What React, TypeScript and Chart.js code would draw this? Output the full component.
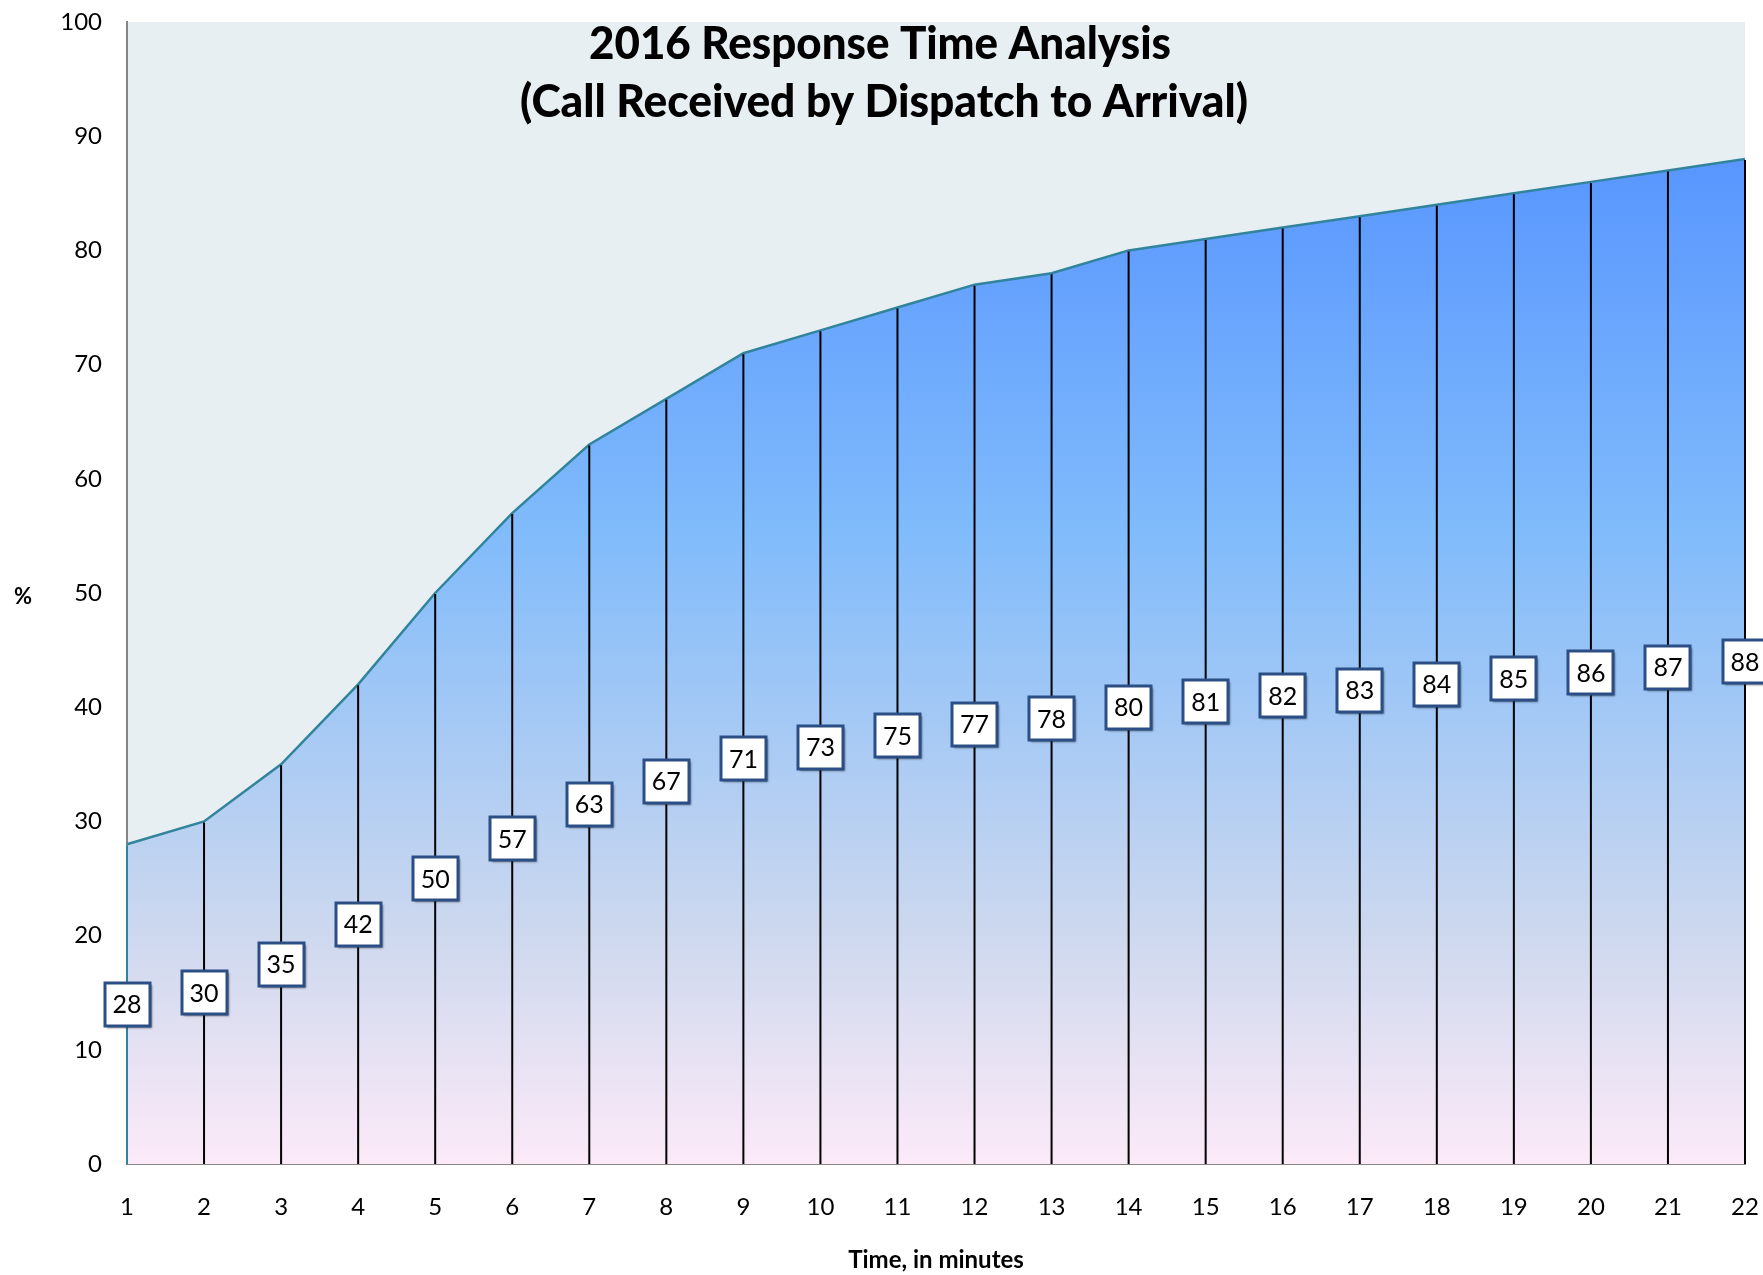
import React, { useEffect, useRef } from 'react';
import { Chart, registerables } from 'chart.js';

Chart.register(...registerables);

const minuteLabels = ['1', '2', '3', '4', '5', '6', '7', '8', '9', '10', '11', '12', '13', '14', '15', '16', '17', '18', '19', '20', '21', '22'];
const percentValues = [28, 30, 35, 42, 50, 57, 63, 67, 71, 73, 75, 77, 78, 80, 81, 82, 83, 84, 85, 86, 87, 88];
const titleLines = ['2016 Response Time Analysis', '(Call Received by Dispatch to Arrival)'];
const xAxisTitle = 'Time, in minutes';
const yAxisTitle = '%';
const yMin = 0;
const yMax = 100;
const yStep = 10;

const FONT = 'Lato, "Open Sans", sans-serif';

export default function App() {
  const canvasRef = useRef<HTMLCanvasElement | null>(null);

  useEffect(() => {
    document.body.style.margin = '0';
    const canvas = canvasRef.current;
    if (!canvas) return;

    const backgroundPlugin = {
      id: 'plotBackground',
      beforeDraw(chart: any) {
        const { ctx, chartArea } = chart;
        ctx.save();
        ctx.fillStyle = '#E7EFF3';
        ctx.fillRect(chartArea.left, chartArea.top, chartArea.right - chartArea.left, chartArea.bottom - chartArea.top);
        ctx.restore();
      },
    };

    const dropLinePlugin = {
      id: 'dropLinesAndLabels',
      afterDatasetsDraw(chart: any) {
        const { ctx, scales } = chart;
        const meta = chart.getDatasetMeta(0);
        const yBase = scales.y.getPixelForValue(0);
        ctx.save();
        meta.data.forEach((pt: any, i: number) => {
          ctx.beginPath();
          ctx.strokeStyle = i === 0 ? '#31849B' : '#000000';
          ctx.lineWidth = 2;
          ctx.moveTo(pt.x, pt.y + 1);
          ctx.lineTo(pt.x, yBase);
          ctx.stroke();
        });
        const w = 45;
        const h = 43;
        meta.data.forEach((pt: any, i: number) => {
          const v = percentValues[i];
          const cy = scales.y.getPixelForValue(v / 2);
          const x0 = Math.round(pt.x - w / 2);
          const y0 = Math.round(cy - h / 2);
          ctx.save();
          ctx.shadowColor = 'rgba(0,0,0,0.5)';
          ctx.shadowOffsetX = 1.5;
          ctx.shadowOffsetY = 1.5;
          ctx.shadowBlur = 2;
          ctx.fillStyle = '#FFFFFF';
          ctx.fillRect(x0, y0, w, h);
          ctx.restore();
          ctx.strokeStyle = '#2B4F85';
          ctx.lineWidth = 3;
          ctx.strokeRect(x0, y0, w, h);
          ctx.fillStyle = '#000000';
          ctx.font = `25px ${FONT}`;
          ctx.textAlign = 'center';
          ctx.textBaseline = 'middle';
          ctx.fillText(String(v), pt.x, cy + 1);
        });
        ctx.restore();
      },
    };

    const textPlugin = {
      id: 'titles',
      afterDraw(chart: any) {
        const { ctx } = chart;
        ctx.save();
        ctx.fillStyle = '#000000';
        ctx.textAlign = 'center';
        ctx.textBaseline = 'alphabetic';
        ctx.font = `900 45px ${FONT}`;
        ctx.fillText(titleLines[0], 880, 59, 582);
        ctx.fillText(titleLines[1], 884, 117, 728);
        ctx.font = `bold 24px ${FONT}`;
        ctx.textBaseline = 'middle';
        ctx.fillText(xAxisTitle, 936, 1260, 186);
        ctx.font = `bold 22px ${FONT}`;
        ctx.fillText(yAxisTitle, 23, 597);
        ctx.restore();
      },
    };

    const chart = new Chart(canvas, {
      type: 'line',
      data: {
        labels: minuteLabels,
        datasets: [
          {
            data: percentValues,
            borderColor: '#31849B',
            borderWidth: 2.5,
            pointRadius: 0,
            tension: 0,
            fill: 'origin',
            backgroundColor: (context: any) => {
              const { chart: c } = context;
              const { chartArea, scales } = c;
              if (!chartArea || !scales.y) return '#80BBFB';
              const top = scales.y.getPixelForValue(Math.max(...percentValues));
              const bottom = scales.y.getPixelForValue(0);
              const g = c.ctx.createLinearGradient(0, top, 0, bottom);
              g.addColorStop(0, '#5896FF');
              g.addColorStop(0.37, '#80BBFB');
              g.addColorStop(0.77, '#CDD8EE');
              g.addColorStop(1, '#FCEAF8');
              return g;
            },
          },
        ],
      },
      options: {
        animation: false,
        responsive: false,
        devicePixelRatio: 1,
        layout: { padding: { top: 22, right: 18, left: 0, bottom: 0 } },
        plugins: {
          legend: { display: false },
          tooltip: { enabled: false },
          title: { display: false },
        },
        scales: {
          x: {
            type: 'category',
            offset: false,
            grid: { display: false, drawTicks: false, tickLength: 0 },
            border: { display: true, color: '#868686', width: 2 },
            ticks: {
              color: '#000000',
              font: { family: FONT, size: 24 },
              padding: 29,
              maxRotation: 0,
              autoSkip: false,
            },
            afterFit: (scale: any) => {
              scale.height = 111;
              scale.paddingLeft = 0;
              scale.paddingRight = 0;
            },
          },
          y: {
            min: yMin,
            max: yMax,
            grid: { display: false, drawTicks: false, tickLength: 0 },
            border: { display: true, color: '#868686', width: 2 },
            ticks: {
              stepSize: yStep,
              color: '#000000',
              font: { family: FONT, size: 24 },
              padding: 25,
            },
            afterFit: (scale: any) => {
              scale.width = 127;
              scale.paddingTop = 0;
              scale.paddingBottom = 0;
            },
          },
        },
      },
      plugins: [backgroundPlugin, dropLinePlugin, textPlugin],
    });

    return () => {
      chart.destroy();
    };
  }, []);

  return (
    <div style={{ width: 1763, height: 1275 }}>
      <canvas ref={canvasRef} width={1763} height={1275} style={{ display: 'block' }} />
    </div>
  );
}
